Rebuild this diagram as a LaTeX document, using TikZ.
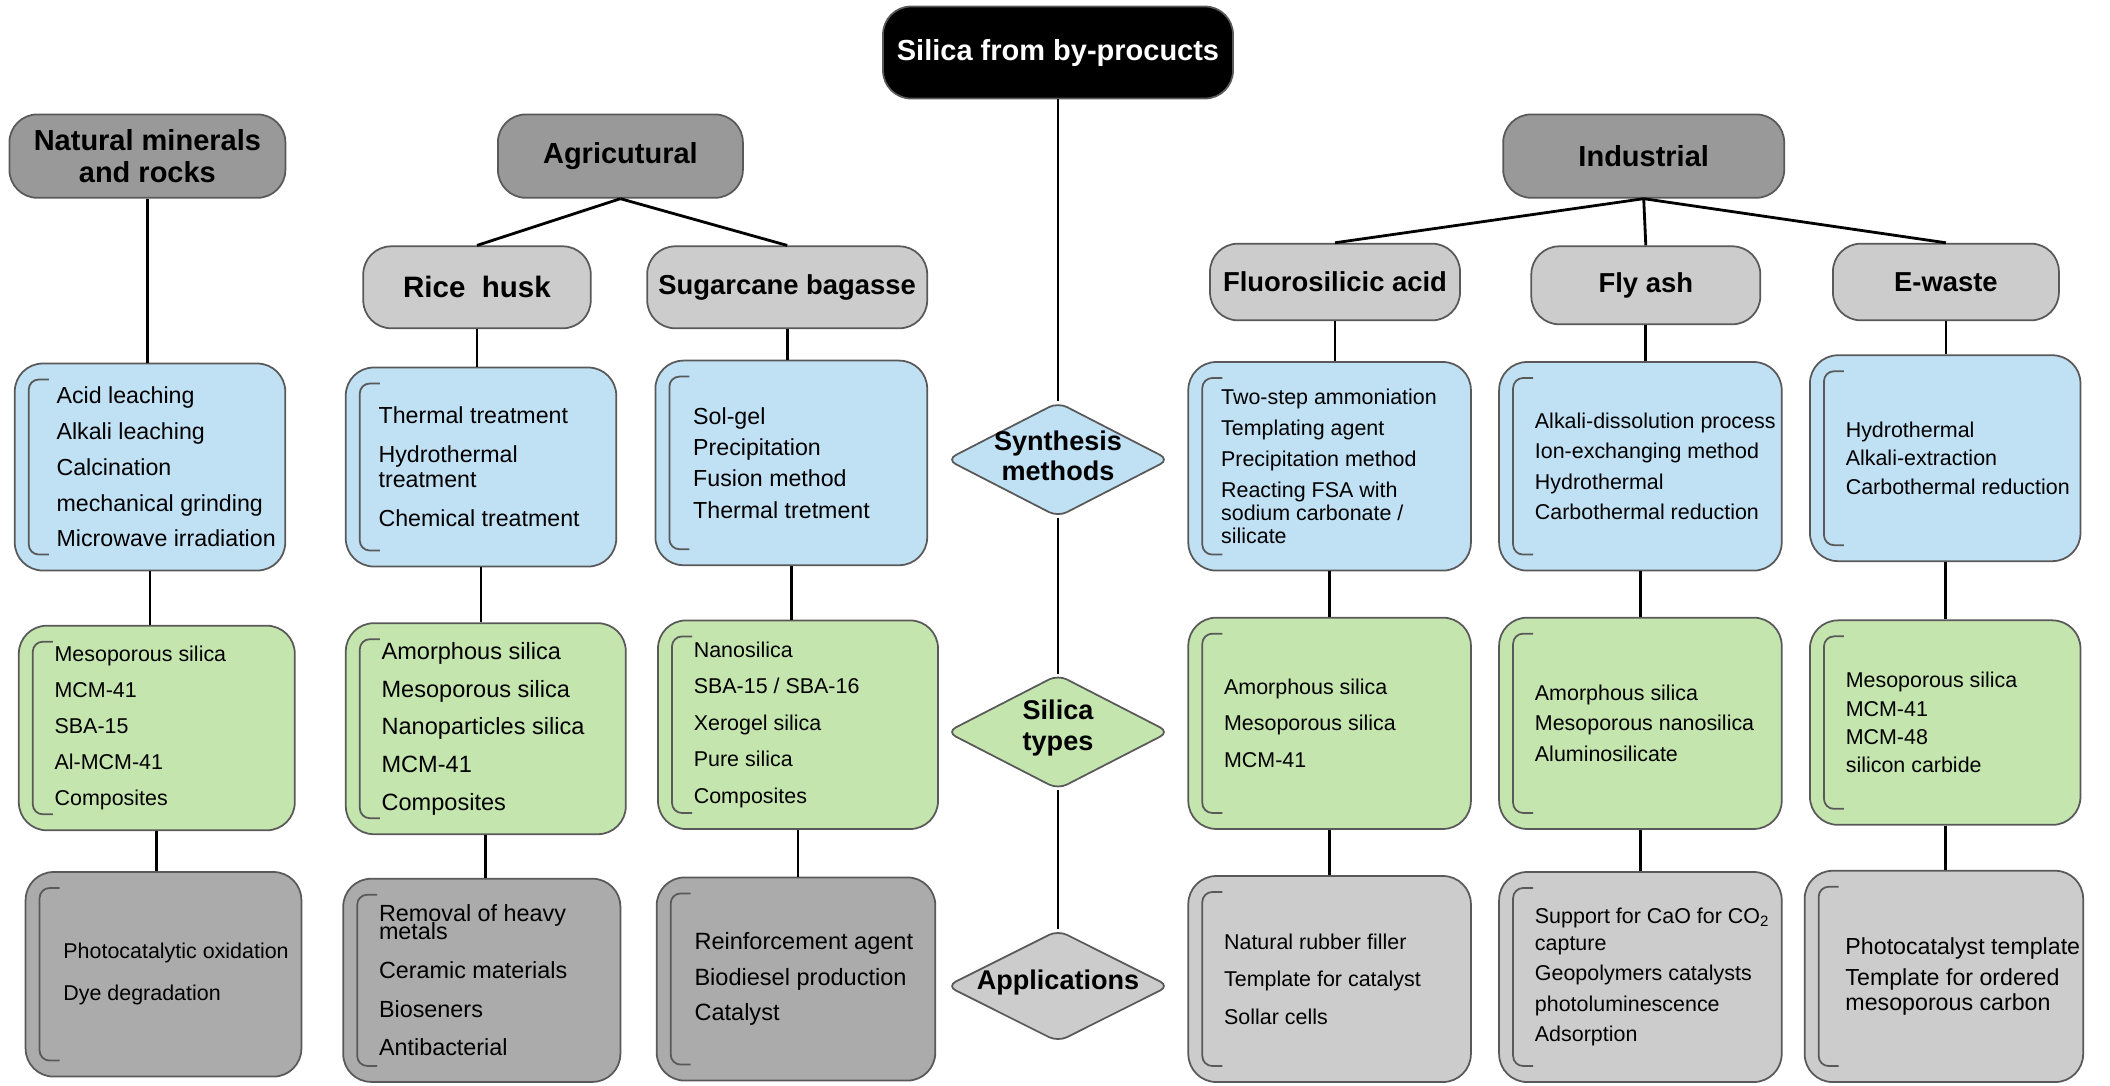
\documentclass[tikz,border=0pt]{standalone}
\usepackage{fontspec}
\setmainfont{Liberation Sans}
\usepackage{tikz}
\usetikzlibrary{shapes.geometric}
\definecolor{rim}{HTML}{595959}
\definecolor{headgray}{HTML}{999999}
\definecolor{subgray}{HTML}{CCCCCC}
\definecolor{methodblue}{HTML}{C0E0F4}
\definecolor{typegreen}{HTML}{C5E5AE}
\definecolor{appdark}{HTML}{ABABAB}

\begin{document}
\begin{tikzpicture}[
    every node/.style={font=\fontsize{6.6}{10}\selectfont},
    wh/.style 2 args={minimum width=#1cm, minimum height=#2cm},
    head/.style={
        rectangle,
        rounded corners=0.28cm,
        draw=rim,
        line width=0.5pt,
        fill=#1,
        inner sep=0pt,
        align=center,
        font=\bfseries\fontsize{8.25}{9}\selectfont
    },
    sub/.style={head=subgray, font=\bfseries\fontsize{7.8}{9}\selectfont},
    card/.style={
        rectangle,
        rounded corners=0.28cm,
        draw=rim,
        line width=0.5pt,
        fill=#1,
        inner sep=0pt,
        path picture={
            \draw[rim, line width=0.5pt, rounded corners=0.1cm]
                ([xshift=0.34cm, yshift=-0.16cm]path picture bounding box.north west)
                -| ([xshift=0.14cm, yshift=0.16cm]path picture bounding box.south west)
                -- ++(0.2cm,0);
        }
    },
    items/.style 2 args={
        anchor=west,
        xshift=0.36cm,
        inner sep=0pt,
        align=left,
        font=\fontsize{#1}{#2}\selectfont
    },
    hub/.style={
        diamond,
        rounded corners=0.1cm,
        draw=rim,
        line width=0.5pt,
        fill=#1,
        inner sep=0pt,
        minimum width=2.23cm,
        minimum height=1.15cm
    },
    hubtext/.style={align=center, inner sep=0pt, yshift=0.04cm, font=\bfseries\fontsize{7.7}{8.6}\selectfont},
    link/.style={line width=0.8pt, draw=black}
]
\useasboundingbox (0,0) rectangle (21.1,-10.85);

% spine
\node[head=black, text=white, wh={3.5}{0.92}] (top) at (10.58,-0.525) {Silica from by-procucts};
\node[hub=methodblue, label={[hubtext]center:{Synthesis\\methods}}] (syn) at (10.58,-4.596) {};
\node[hub=typegreen, label={[hubtext]center:{Silica\\types}}] (typ) at (10.58,-7.32) {};
\node[hub=subgray, minimum height=1.12cm, label={[hubtext]center:{Applications}}] (app) at (10.58,-9.86) {};

% sources
\node[head=headgray, wh={2.76}{0.834}] (nat) at (1.474,-1.561) {Natural minerals\\and rocks};
\node[head=headgray, wh={2.45}{0.834}] (agri) at (6.204,-1.561) {Agricutural};
\node[head=headgray, wh={2.81}{0.834}] (ind) at (16.437,-1.561) {Industrial};

\node[sub, wh={2.275}{0.82}, font=\bfseries\fontsize{8.4}{9}\selectfont] (rice) at (4.77,-2.873) {Rice~~husk};
\node[sub, wh={2.80}{0.82}] (sugar) at (7.872,-2.873) {Sugarcane bagasse};
\node[sub, wh={2.50}{0.767}] (fluoro) at (13.35,-2.82) {Fluorosilicic acid};
\node[sub, wh={2.29}{0.78}] (fly) at (16.458,-2.853) {Fly ash};
\node[sub, wh={2.26}{0.767}] (ewaste) at (19.459,-2.82) {E-waste};

% synthesis methods
\node[card=methodblue, wh={2.705}{2.07},
    label={[items={6.6}{10.2}, xshift=0.06cm]west:{Acid leaching\\Alkali leaching\\Calcination\\mechanical grinding\\Microwave irradiation}}]
    (m1) at (1.50,-4.67) {};
\node[card=methodblue, wh={2.705}{1.99},
    label={[items={6.6}{11.1}, xshift=-0.03cm]west:{Thermal treatment\\Hydrothermal\\[-4pt]treatment\\Chemical treatment}}]
    (m2) at (4.81,-4.67) {};
\node[card=methodblue, wh={2.718}{2.046},
    label={[items={6.6}{8.9}, xshift=0.02cm]west:{Sol-gel\\Precipitation\\Fusion method\\Thermal tretment}}]
    (m3) at (7.913,-4.629) {};
\node[card=methodblue, wh={2.826}{2.086},
    label={[items={6.1}{8.8}, xshift=-0.03cm]west:{Two-step ammoniation\\Templating agent\\Precipitation method\\Reacting FSA with\\[-2.3pt]sodium carbonate /\\[-2.3pt]silicate}}]
    (m4) at (13.296,-4.663) {};
\node[card=methodblue, wh={2.826}{2.086},
    label={[items={6.1}{8.7}]west:{Alkali-dissolution process\\Ion-exchanging method\\Hydrothermal\\Carbothermal reduction}}]
    (m5) at (16.404,-4.663) {};
\node[card=methodblue, wh={2.705}{2.059},
    label={[items={6.1}{8.2}]west:{Hydrothermal\\Alkali-extraction\\Carbothermal reduction}}]
    (m6) at (19.452,-4.582) {};

% silica types
\node[card=typegreen, wh={2.76}{2.046},
    label={[items={6.1}{10.2}]west:{Mesoporous silica\\MCM-41\\SBA-15\\Al-MCM-41\\Composites}}]
    (t1) at (1.568,-7.28) {};
\node[card=typegreen, wh={2.80}{2.11},
    label={[items={6.7}{10.7}]west:{Amorphous silica\\Mesoporous silica\\Nanoparticles silica\\MCM-41\\Composites}}]
    (t2) at (4.858,-7.287) {};
\node[card=typegreen, wh={2.80}{2.086},
    label={[items={6.1}{10.4}]west:{Nanosilica\\SBA-15 / SBA-16\\Xerogel silica\\Pure silica\\Composites}}]
    (t3) at (7.98,-7.247) {};
\node[card=typegreen, wh={2.826}{2.113},
    label={[items={6.1}{10.5}]west:{Amorphous silica\\Mesoporous silica\\MCM-41}}]
    (t4) at (13.296,-7.233) {};
\node[card=typegreen, wh={2.826}{2.113},
    label={[items={6.1}{8.6}]west:{Amorphous silica\\Mesoporous nanosilica\\Aluminosilicate}}]
    (t5) at (16.404,-7.233) {};
\node[card=typegreen, wh={2.705}{2.045},
    label={[items={6.1}{8.05}]west:{Mesoporous silica\\MCM-41\\MCM-48\\silicon carbide}}]
    (t6) at (19.452,-7.226) {};

% applications
\node[card=appdark, wh={2.758}{2.046},
    label={[items={6.1}{11.9}, xshift=0.02cm]west:{Photocatalytic oxidation\\Dye degradation}}]
    (a1) at (1.635,-9.743) {};
\node[card=appdark, wh={2.772}{2.032},
    label={[items={6.65}{11}]west:{Removal of heavy\\[-5.8pt]metals\\Ceramic materials\\Bioseners\\Antibacterial}}]
    (a2) at (4.818,-9.803) {};
\node[card=appdark, wh={2.786}{2.032},
    label={[items={6.7}{10.2}, xshift=0.02cm]west:{Reinforcement agent\\Biodiesel production\\Catalyst}}]
    (a3) at (7.96,-9.79) {};
\node[card=subgray, wh={2.826}{2.06},
    label={[items={6.1}{10.7}]west:{Natural rubber filler\\Template for catalyst\\Sollar cells}}]
    (a4) at (13.296,-9.79) {};
\node[card=subgray, wh={2.826}{2.10},
    label={[items={6.1}{8.7}]west:{Support for CaO for CO\textsubscript{2}\\[-1pt]capture\\Geopolymers catalysts\\photoluminescence\\Adsorption}}]
    (a5) at (16.404,-9.77) {};
\node[card=subgray, wh={2.785}{2.113},
    label={[items={6.6}{8.8}, xshift=0.05cm]west:{Photocatalyst template\\Template for ordered\\[-1.5pt]mesoporous carbon}}]
    (a6) at (19.439,-9.764) {};

\draw[link] (top) -- (syn);
\draw[link] (syn) -- (typ);
\draw[link] (typ) -- (app);

\draw[link] (agri.south) -- (rice.north);
\draw[link] (agri.south) -- (sugar.north);
\draw[link] (ind.south) -- (fluoro.north);
\draw[link] (ind.south) -- (fly.north);
\draw[link] (ind.south) -- (ewaste.north);

\draw[link] (nat.south) -- (nat.south |- m1.north);
\draw[link] (rice.south) -- (rice.south |- m2.north);
\draw[link] (sugar.south) -- (sugar.south |- m3.north);
\draw[link] (fluoro.south) -- (fluoro.south |- m4.north);
\draw[link] (fly.south) -- (fly.south |- m5.north);
\draw[link] (ewaste.south) -- (ewaste.south |- m6.north);

\draw[link] (m1.south) -- (m1.south |- t1.north);
\draw[link] (m2.south) -- (m2.south |- t2.north);
\draw[link] (m3.south) -- (m3.south |- t3.north);
\draw[link] (m4.south) -- (m4.south |- t4.north);
\draw[link] (m5.south) -- (m5.south |- t5.north);
\draw[link] (m6.south) -- (m6.south |- t6.north);

\draw[link] (t1.south) -- (t1.south |- a1.north);
\draw[link] (t2.south) -- (t2.south |- a2.north);
\draw[link] (t3.south) -- (t3.south |- a3.north);
\draw[link] (t4.south) -- (t4.south |- a4.north);
\draw[link] (t5.south) -- (t5.south |- a5.north);
\draw[link] (t6.south) -- (t6.south |- a6.north);

\end{tikzpicture}
\end{document}
